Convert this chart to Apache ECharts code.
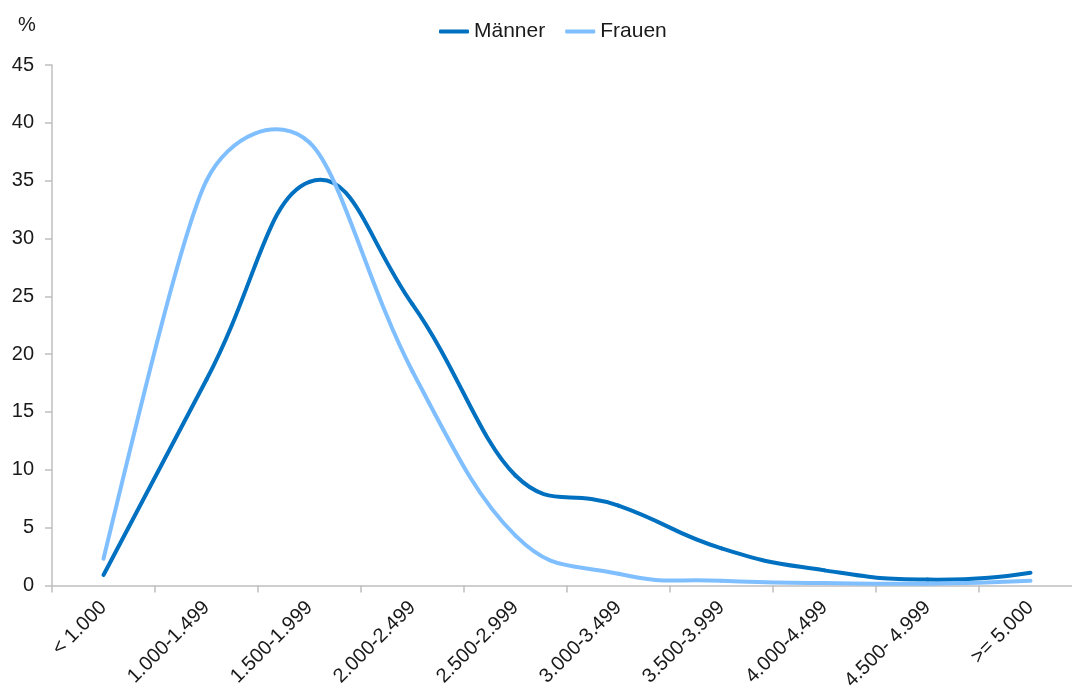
<!DOCTYPE html>
<html>
<head>
<meta charset="utf-8">
<script src="https://cdn.jsdelivr.net/npm/echarts@6/dist/echarts.min.js"></script>
<style>
  html, body { margin: 0; padding: 0; background: #ffffff; overflow: hidden; }
  /* the category axis runs on past the right edge of the window */
  #chart { width: 1082px; height: 693px; }
</style>
</head>
<body>
<div id="chart"></div>
<script>
// Net income brackets (EUR per month)
const categories = ['< 1.000', '1.000-1.499', '1.500-1.999', '2.000-2.499', '2.500-2.999',
  '3.000-3.499', '3.500-3.999', '4.000-4.499', '4.500- 4.999', '>= 5.000'];

// Share of each group in percent
const maenner = [0.9, 17.8, 34.9, 24.3, 9.5, 6.9, 3.2, 1.3, 0.5, 1.1];
const frauen  = [2.3, 35.0, 38.3, 18.5, 4.3, 1.0, 0.4, 0.2, 0.15, 0.4];

const yTicks = { min: 0, max: 45, interval: 5 };

const axisGrey = '#bfbfbf';
const textColor = '#1a1a1a';
const fontFamily = 'Liberation Sans, Arial, sans-serif';
const colorMaenner = '#0070c0';
const colorFrauen = '#80bfff';

// Smooth curve through the data points: one cubic Bezier per segment.
// The tangent at an inner point follows its two neighbours; both handles get
// the same length, scaled by the shorter of the two adjoining chords.
// An end point's handle lies halfway towards its neighbour's handle.
const SMOOTH = 0.5;
function smoothSegment(values, color) {
  return function (params, api) {
    const i = params.dataIndex;
    if (i >= values.length - 1) return null;
    const pts = values.map((v, k) => api.coord([k, v]));
    const n = pts.length;
    const dist = (a, b) => Math.hypot(b[0] - a[0], b[1] - a[1]);
    function inner(k) {
      const p = pts[k];
      const prev = pts[k - 1], next = pts[k + 1];
      const d0 = dist(prev, p), d1 = dist(p, next);
      const vx = next[0] - prev[0], vy = next[1] - prev[1];
      const f = SMOOTH * Math.min(d0, d1) / ((d0 + d1) || 1);
      return {
        in: [p[0] - vx * f, p[1] - vy * f],
        out: [p[0] + vx * f, p[1] + vy * f]
      };
    }
    function handles(k) {
      const p = pts[k];
      if (k === 0 || k === n - 1) {
        const ref = k === 0 ? inner(1).in : inner(n - 2).out;
        const h = [p[0] + (ref[0] - p[0]) / 2, p[1] + (ref[1] - p[1]) / 2];
        return { in: h, out: h };
      }
      return inner(k);
    }
    const a = pts[i], b = pts[i + 1];
    const ha = handles(i), hb = handles(i + 1);
    return {
      type: 'bezierCurve',
      shape: {
        x1: a[0], y1: a[1],
        cpx1: ha.out[0], cpy1: ha.out[1],
        cpx2: hb.in[0], cpy2: hb.in[1],
        x2: b[0], y2: b[1]
      },
      style: { stroke: color, lineWidth: 4, fill: null, lineCap: 'round', lineJoin: 'round' },
      silent: true
    };
  };
}

const chart = echarts.init(document.getElementById('chart'), null, { renderer: 'canvas' });

chart.setOption({
  animation: false,
  backgroundColor: '#ffffff',
  title: {
    text: '%',
    left: 13,
    top: 10,
    textStyle: { fontSize: 20, fontWeight: 'normal', color: textColor, fontFamily }
  },
  legend: {
    left: 434,
    top: 16,
    itemWidth: 30,
    itemHeight: 4,
    itemGap: 20,
    icon: 'roundRect',
    textStyle: { fontSize: 21, color: textColor, fontFamily },
    data: ['Männer', 'Frauen']
  },
  grid: { left: 52, right: 0, top: 65, bottom: 105, containLabel: false },
  xAxis: {
    type: 'category',
    data: categories,
    boundaryGap: true,
    axisLine: { lineStyle: { color: axisGrey, width: 1.5 } },
    axisTick: { show: true, length: 7, lineStyle: { color: axisGrey, width: 1.5 } },
    axisLabel: {
      interval: 0,
      rotate: 45,
      margin: 19,
      fontSize: 20,
      color: textColor,
      fontFamily
    },
    splitLine: { show: false }
  },
  yAxis: {
    type: 'value',
    min: yTicks.min,
    max: yTicks.max,
    interval: yTicks.interval,
    axisLine: { show: true, lineStyle: { color: axisGrey, width: 1.5 } },
    axisTick: { show: true, length: 7, lineStyle: { color: axisGrey, width: 1.5 } },
    axisLabel: { margin: 18, fontSize: 20, color: textColor, fontFamily },
    splitLine: { show: false }
  },
  series: [
    {
      name: 'Männer',
      type: 'custom',
      coordinateSystem: 'cartesian2d',
      data: maenner.map((v, i) => [i, v]),
      encode: { x: 0, y: 1 },
      itemStyle: { color: colorMaenner },
      renderItem: smoothSegment(maenner, colorMaenner),
      silent: true
    },
    {
      name: 'Frauen',
      type: 'custom',
      coordinateSystem: 'cartesian2d',
      data: frauen.map((v, i) => [i, v]),
      encode: { x: 0, y: 1 },
      itemStyle: { color: colorFrauen },
      renderItem: smoothSegment(frauen, colorFrauen),
      silent: true
    }
  ]
});
</script>
</body>
</html>
